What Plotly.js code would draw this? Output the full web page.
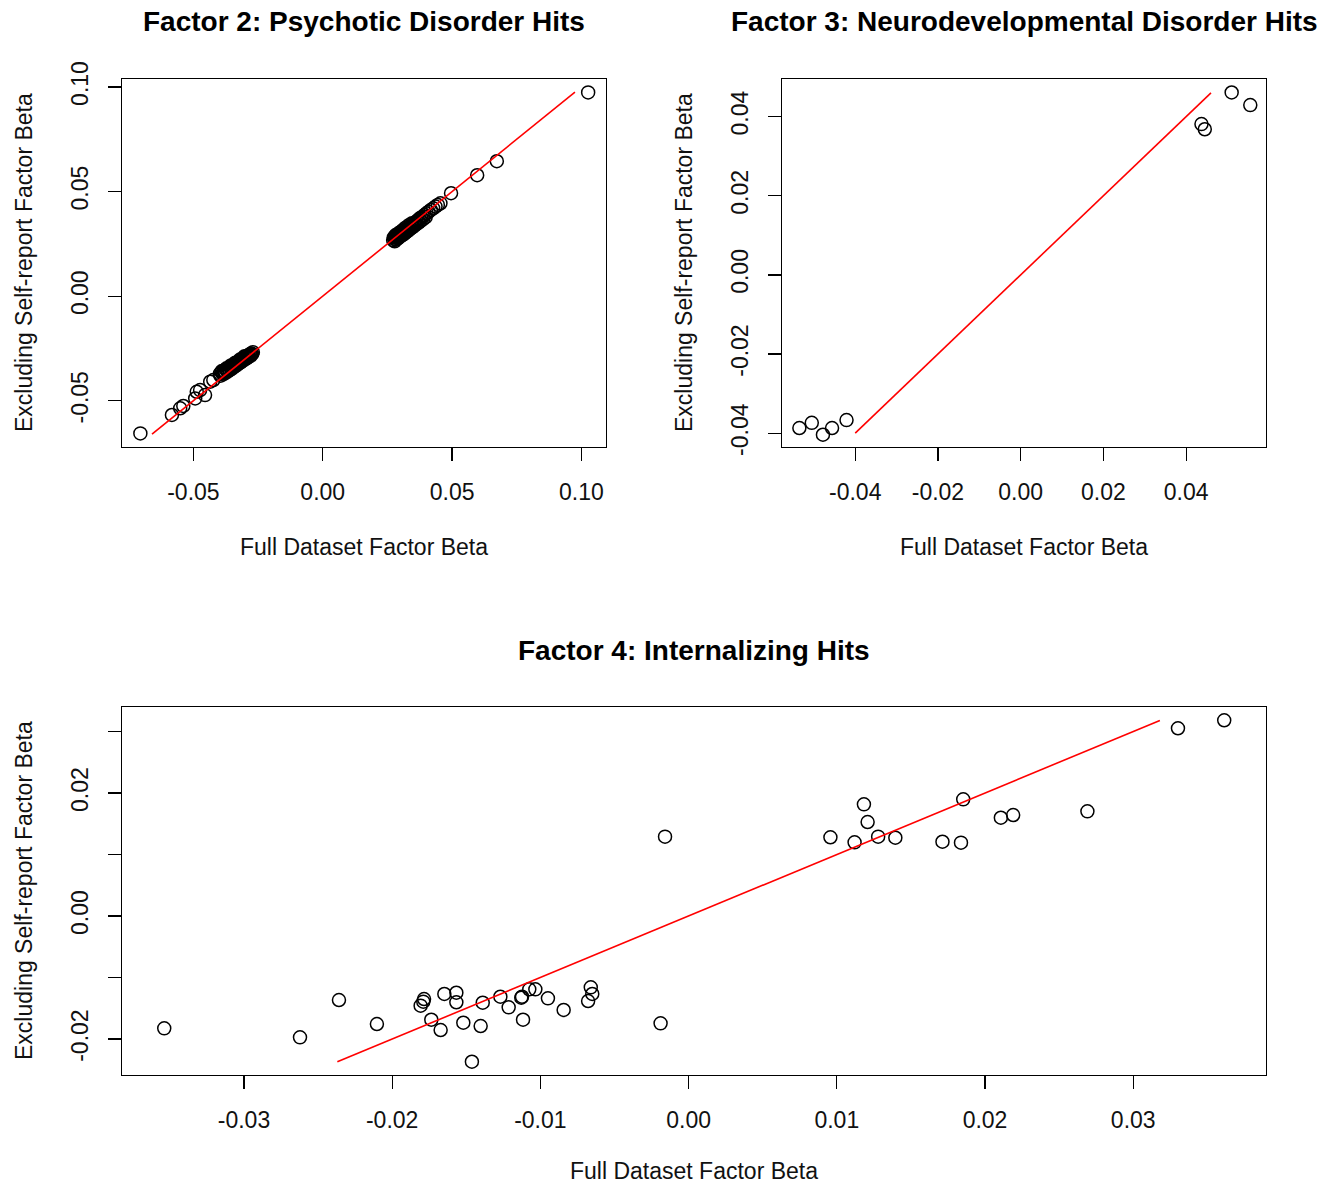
<!DOCTYPE html>
<html>
<head>
<meta charset="utf-8">
<script src="https://cdn.plot.ly/plotly-3.0.1.min.js"></script>
<style>html,body{margin:0;padding:0;background:#fff;}#chart{width:1332px;height:1185px;}</style>
</head>
<body>
<div id="chart"></div>
<script>
// ---------- Factor 2: Psychotic Disorder Hits ----------
var f2_full = [
  0.1026, 0.0673, 0.0597, 0.0496,
  0.0272, 0.0275, 0.0278, 0.0280, 0.0283, 0.0285, 0.0288, 0.0290, 0.0293, 0.0296,
  0.0298, 0.0301, 0.0304, 0.0307, 0.0310, 0.0313, 0.0316, 0.0319, 0.0322, 0.0326,
  0.0330, 0.0334, 0.0338, 0.0342, 0.0347, 0.0352, 0.0357, 0.0362, 0.0368, 0.0374,
  0.0380, 0.0387, 0.0394, 0.0401, 0.0409, 0.0418, 0.0427, 0.0436, 0.0445, 0.0455,
  0.0278, 0.0284, 0.0291, 0.0297, 0.0303, 0.0309, 0.0315, 0.0321, 0.0328, 0.0335,
  0.0341, 0.0348, 0.0355, 0.0363, 0.0371, 0.0379, 0.0388, 0.0398, 0.0282, 0.0295,
  0.0308, 0.0320, 0.0333, 0.0345,
  -0.0705, -0.0583, -0.0551, -0.0539, -0.0493, -0.0487, -0.0474, -0.0455, -0.0435, -0.0423,
  -0.0398, -0.0392, -0.0387, -0.0383, -0.0378, -0.0374, -0.0370, -0.0366, -0.0362, -0.0358,
  -0.0355, -0.0351, -0.0348, -0.0344, -0.0341, -0.0337, -0.0334, -0.0331, -0.0327, -0.0324,
  -0.0321, -0.0318, -0.0315, -0.0312, -0.0309, -0.0306, -0.0303, -0.0300, -0.0297, -0.0294,
  -0.0291, -0.0288, -0.0285, -0.0282, -0.0279, -0.0276, -0.0273, -0.0270,
  -0.0395, -0.0385, -0.0376, -0.0368, -0.0360, -0.0352, -0.0345, -0.0338, -0.0331, -0.0324,
  -0.0317, -0.0310, -0.0302, -0.0294, -0.0286, -0.0278, -0.0390, -0.0372, -0.0355, -0.0338,
  -0.0320, -0.0302
];
var f2_excl = [
  0.0974, 0.0645, 0.0578, 0.0492,
  0.0268, 0.0281, 0.0273, 0.0286, 0.0279, 0.0290, 0.0284, 0.0293, 0.0287, 0.0297,
  0.0291, 0.0302, 0.0296, 0.0305, 0.0300, 0.0311, 0.0306, 0.0317, 0.0313, 0.0322,
  0.0319, 0.0330, 0.0327, 0.0338, 0.0335, 0.0347, 0.0351, 0.0358, 0.0362, 0.0371,
  0.0375, 0.0381, 0.0388, 0.0396, 0.0403, 0.0412, 0.0420, 0.0428, 0.0436, 0.0444,
  0.0262, 0.0270, 0.0276, 0.0283, 0.0288, 0.0293, 0.0298, 0.0305, 0.0311, 0.0318,
  0.0325, 0.0330, 0.0337, 0.0345, 0.0352, 0.0360, 0.0368, 0.0378, 0.0292, 0.0303,
  0.0315, 0.0327, 0.0339, 0.0349,
  -0.0656, -0.0568, -0.0536, -0.0525, -0.0489, -0.0457, -0.0449, -0.0473, -0.0409, -0.0401,
  -0.0372, -0.0363, -0.0369, -0.0357, -0.0362, -0.0350, -0.0356, -0.0344, -0.0349, -0.0338,
  -0.0343, -0.0333, -0.0337, -0.0327, -0.0331, -0.0322, -0.0326, -0.0316, -0.0320, -0.0311,
  -0.0315, -0.0306, -0.0309, -0.0300, -0.0304, -0.0296, -0.0299, -0.0291, -0.0294, -0.0287,
  -0.0289, -0.0282, -0.0285, -0.0278, -0.0280, -0.0274, -0.0276, -0.0268,
  -0.0380, -0.0374, -0.0367, -0.0361, -0.0354, -0.0347, -0.0340, -0.0334, -0.0328, -0.0321,
  -0.0316, -0.0309, -0.0303, -0.0297, -0.0290, -0.0284, -0.0358, -0.0345, -0.0331, -0.0318,
  -0.0303, -0.0287
];
var f2_line = [-0.0660, 0.0975];
var f2_ticks = [-0.05, 0.00, 0.05, 0.10];
var f2_ticktext = ["-0.05", "0.00", "0.05", "0.10"];

// ---------- Factor 3: Neurodevelopmental Disorder Hits ----------
var f3_full = [-0.0535, -0.0505, -0.0478, -0.0456, -0.0421, 0.0437, 0.0445, 0.0510, 0.0555];
var f3_excl = [-0.0387, -0.0374, -0.0404, -0.0387, -0.0367, 0.0381, 0.0368, 0.0461, 0.0429];
var f3_line = [-0.0400, 0.0460];
var f3_ticks = [-0.04, -0.02, 0.00, 0.02, 0.04];
var f3_ticktext = ["-0.04", "-0.02", "0.00", "0.02", "0.04"];

// ---------- Factor 4: Internalizing Hits ----------
var f4_full = [
  -0.03538, -0.02622, -0.02359, -0.02103, -0.01808, -0.01785, -0.01790, -0.01736, -0.01673,
  -0.01648, -0.01567, -0.01567, -0.01520, -0.01462, -0.01403, -0.01389, -0.01270, -0.01214,
  -0.01124, -0.01129, -0.01117, -0.01075, -0.01034, -0.00949, -0.00843, -0.00678, -0.00660,
  -0.00650, -0.00189, -0.00159, 0.00957, 0.01120, 0.01183, 0.01208, 0.01279, 0.01395,
  0.01713, 0.01838, 0.01853, 0.02107, 0.02190, 0.02691, 0.03302, 0.03614
];
var f4_excl = [
  -0.01826, -0.01973, -0.01366, -0.01756, -0.01458, -0.01350, -0.01393, -0.01686, -0.01854,
  -0.01268, -0.01247, -0.01403, -0.01735, -0.02369, -0.01789, -0.01410, -0.01312, -0.01485,
  -0.01312, -0.01328, -0.01686, -0.01192, -0.01192, -0.01339, -0.01528, -0.01382, -0.01160,
  -0.01268, -0.01745, 0.01290, 0.01280, 0.01198, 0.01816, 0.01528, 0.01290, 0.01273,
  0.01208, 0.01192, 0.01897, 0.01598, 0.01642, 0.01702, 0.03052, 0.03182
];
var f4_line = [-0.0237, 0.0318];
var f4_xticks = [-0.03, -0.02, -0.01, 0.00, 0.01, 0.02, 0.03];
var f4_xticktext = ["-0.03", "-0.02", "-0.01", "0.00", "0.01", "0.02", "0.03"];
var f4_yticks = [-0.02, -0.01, 0.00, 0.01, 0.02, 0.03];
var f4_yticktext = ["-0.02", "", "0.00", "", "0.02", ""];

var titles = ["Factor 2: Psychotic Disorder Hits", "Factor 3: Neurodevelopmental Disorder Hits", "Factor 4: Internalizing Hits"];
var xTitle = "Full Dataset Factor Beta";
var yTitle = "Excluding Self-report Factor Beta";

var W = 1332, H = 1185;
function px(x) { return x / W; }
function py(y) { return 1 - y / H; }

var FONT = "Liberation Sans, Arial, Helvetica, sans-serif";

function pts(x, y, xa, ya) {
  return { x: x, y: y, xaxis: xa, yaxis: ya, type: "scatter", mode: "markers",
    marker: { symbol: "circle-open", size: 13, color: "#000", line: { width: 1.5, color: "#000" } },
    hoverinfo: "x+y", showlegend: false, cliponaxis: false };
}
function ln(v, xa, ya) {
  return { x: v, y: v, xaxis: xa, yaxis: ya, type: "scatter", mode: "lines",
    line: { color: "#ff0000", width: 1.6 }, hoverinfo: "skip", showlegend: false };
}

var data = [
  pts(f2_full, f2_excl, "x", "y"), ln(f2_line, "x", "y"),
  pts(f3_full, f3_excl, "x2", "y2"), ln(f3_line, "x2", "y2"),
  pts(f4_full, f4_excl, "x3", "y3"), ln(f4_line, "x3", "y3")
];

function ax(domain, range, tv, tt, anchor, isY) {
  var a = {
    domain: domain, range: range, anchor: anchor,
    tickmode: "array", tickvals: tv, ticktext: tt,
    showgrid: false, zeroline: false,
    showline: true, mirror: true, linecolor: "#000", linewidth: 1.3,
    ticks: "outside", ticklen: 13, tickwidth: 1.3, tickcolor: "#000",
    tickfont: { family: FONT, size: 23, color: "#111" },
    ticklabelstandoff: 11
  };
  if (isY) a.tickangle = -90;
  return a;
}

var layout = {
  width: W, height: H,
  margin: { l: 0, r: 0, t: 0, b: 0 },
  paper_bgcolor: "#fff", plot_bgcolor: "#fff",
  font: { family: FONT, color: "#111" },
  showlegend: false,
  xaxis: ax([px(122), px(606)], [-0.0776, 0.1095], f2_ticks, f2_ticktext, "y", false),
  yaxis: ax([py(447), py(79)], [-0.0721, 0.1038], f2_ticks, f2_ticktext, "x", true),
  xaxis2: ax([px(782), px(1266)], [-0.0577, 0.0593], f3_ticks, f3_ticktext, "y2", false),
  yaxis2: ax([py(447), py(79)], [-0.0435, 0.0495], f3_ticks, f3_ticktext, "x2", true),
  xaxis3: ax([px(122), px(1266)], [-0.03823, 0.03896], f4_xticks, f4_xticktext, "y3", false),
  yaxis3: ax([py(1075), py(707)], [-0.02585, 0.03398], f4_yticks, f4_yticktext, "x3", true),
  annotations: [
    { text: "<b>" + titles[0] + "</b>", x: px(364), y: py(22) },
    { text: "<b>" + titles[1] + "</b>", x: px(1024), y: py(22) },
    { text: "<b>" + titles[2] + "</b>", x: px(694), y: py(650) }
  ].map(function (a) {
    a.xref = "paper"; a.yref = "paper"; a.showarrow = false;
    a.xanchor = "center"; a.yanchor = "middle";
    a.font = { family: FONT, size: 28, color: "#000" };
    return a;
  }).concat([
    { text: xTitle, x: px(364), y: py(547) },
    { text: xTitle, x: px(1024), y: py(547) },
    { text: xTitle, x: px(694), y: py(1171) },
    { text: yTitle, x: px(24), y: py(263), textangle: -90 },
    { text: yTitle, x: px(684), y: py(263), textangle: -90 },
    { text: yTitle, x: px(24), y: py(891), textangle: -90 }
  ].map(function (a) {
    a.xref = "paper"; a.yref = "paper"; a.showarrow = false;
    a.xanchor = "center"; a.yanchor = "middle";
    a.font = { family: FONT, size: 23, color: "#111" };
    return a;
  }))
};

Plotly.newPlot("chart", data, layout, { displayModeBar: false, staticPlot: true });
</script>
</body>
</html>
